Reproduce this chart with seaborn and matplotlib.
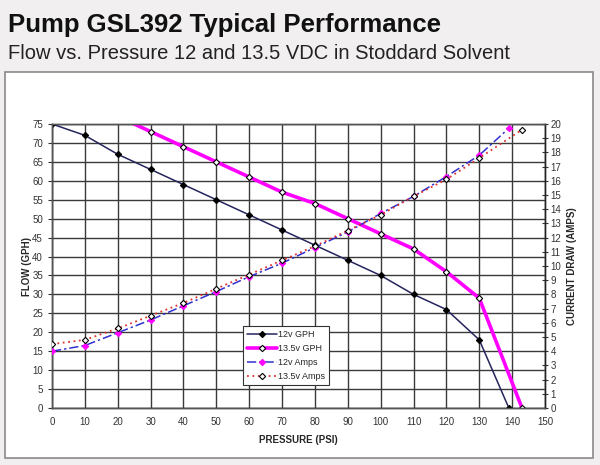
import numpy as np
import pandas as pd
import matplotlib
matplotlib.use("Agg")
import matplotlib.pyplot as plt
import seaborn as sns
from matplotlib.patches import Rectangle

# =========================
# DATA
# =========================

psi_12_gph = [0, 10, 20, 30, 40, 50, 60, 70, 80, 90, 100, 110, 120, 130, 139]
gph_12 = [75, 72, 67, 63, 59, 55, 51, 47, 43, 39, 35, 30, 26, 18, 0]

psi_135_gph = [20, 30, 40, 50, 60, 70, 80, 90, 100, 110, 120, 130, 143]
gph_135 = [77, 73, 69, 65, 61, 57, 54, 50, 46, 42, 36, 29, 0]

psi_12_amps = [0, 10, 20, 30, 40, 50, 60, 70, 80, 90, 100, 110, 120, 130, 139]
amps_12 = [4.0, 4.4, 5.3, 6.2, 7.2, 8.2, 9.25, 10.2, 11.3, 12.4, 13.7, 14.9, 16.3, 17.8, 19.7]

psi_135_amps = [0, 10, 20, 30, 40, 50, 60, 70, 80, 90, 100, 110, 120, 130, 143]
amps_135 = [4.5, 4.8, 5.6, 6.5, 7.4, 8.4, 9.4, 10.4, 11.4, 12.5, 13.6, 14.9, 16.1, 17.6, 19.6]

x_ticks = list(range(0, 151, 10))
flow_ticks = list(range(0, 76, 5))
amp_ticks = list(range(0, 21, 1))

# =========================
# FIGURE
# =========================

sns.set_style("white")
plt.rcParams["font.family"] = ["Liberation Sans", "DejaVu Sans"]

fig = plt.figure(figsize=(6, 4.65), dpi=100)
fig.patch.set_facecolor("#f1efef")

# white panel behind the chart
panel = Rectangle((5 / 600, 1 - 458 / 465), 588 / 600, 386 / 465,
                  transform=fig.transFigure, facecolor="white",
                  edgecolor="#8a8a8a", linewidth=1.2, zorder=-5)
fig.patches.append(panel)

fig.text(8 / 600, 1 - 32 / 465, "Pump GSL392 Typical Performance",
         fontsize=18.5, fontweight="bold", color="#111111")
fig.text(8 / 600, 1 - 59 / 465, "Flow vs. Pressure 12 and 13.5 VDC in Stoddard Solvent",
         fontsize=14.5, color="#222222")

ax = fig.add_axes([52 / 600, 1 - 408 / 465, 493 / 600, 284 / 465])
ax.set_facecolor("white")
ax2 = ax.twinx()

# =========================
# LINES
# =========================

sns.lineplot(x=psi_12_gph, y=gph_12, ax=ax, color="#25255e", linewidth=1.1,
             marker="D", markersize=3.2, markerfacecolor="black",
             markeredgecolor="black", label="12v GPH", legend=False, zorder=4)

sns.lineplot(x=psi_135_gph, y=gph_135, ax=ax, color="#ff00ff", linewidth=2.6,
             marker="D", markersize=3.2, markerfacecolor="white",
             markeredgecolor="black", markeredgewidth=0.8,
             label="13.5v GPH", legend=False, zorder=4)

sns.lineplot(x=psi_12_amps, y=amps_12, ax=ax2, color="#3030d0", linewidth=1.1,
             marker="D", markersize=3.2, markerfacecolor="#ff00ff",
             markeredgecolor="#ff00ff",
             label="12v Amps", legend=False, zorder=3)
ax2.lines[-1].set_dashes([6, 2, 1.5, 2])

sns.lineplot(x=psi_135_amps, y=amps_135, ax=ax2, color="#e03030", linewidth=1.3,
             marker="D", markersize=3.2, markerfacecolor="white",
             markeredgecolor="black", markeredgewidth=0.8,
             label="13.5v Amps", legend=False, zorder=3)
ax2.lines[-1].set_linestyle((0, (1, 2)))

# =========================
# AXES
# =========================

ax.set_xlim(0, 150)
ax.set_ylim(0, 75)
ax2.set_ylim(0, 20)

ax.set_xticks(x_ticks)
ax.set_yticks(flow_ticks)
ax2.set_yticks(amp_ticks)

ax.grid(True, color="#3a3a3a", linewidth=1.0)
ax.set_axisbelow(True)

for a in (ax, ax2):
    a.tick_params(labelsize=7, colors="#333333", length=3, width=0.8)
    for s in a.spines.values():
        s.set_color("#555555")
        s.set_linewidth(1.0)
ax2.tick_params(axis="y", direction="inout", length=5, pad=1.5)
ax.spines["left"].set_color("#222222")
ax.spines["bottom"].set_color("#222222")
ax2.spines["right"].set_color("#222222")

ax.set_xlabel("PRESSURE (PSI)", fontsize=7, fontweight="bold", labelpad=6)
ax.set_ylabel("FLOW (GPH)", fontsize=7, fontweight="bold", labelpad=0)
ax2.set_ylabel("CURRENT DRAW (AMPS)", fontsize=7, fontweight="bold", labelpad=4)

handles = [h for h in ax.get_lines() if h.get_label() in ("12v GPH", "13.5v GPH")] + \
          [h for h in ax2.get_lines() if h.get_label() in ("12v Amps", "13.5v Amps")]
leg = ax2.legend(handles, [h.get_label() for h in handles],
                 loc="upper left", bbox_to_anchor=((243 - 52) / 493, (408 - 326) / 284),
                 fontsize=6.5, frameon=True, fancybox=False, framealpha=1,
                 edgecolor="#333333", borderpad=0.45, labelspacing=0.55,
                 handlelength=3.3, handletextpad=0.1, borderaxespad=0)
leg.get_frame().set_linewidth(0.8)

fig.savefig("out.png", dpi=100, facecolor=fig.get_facecolor())
